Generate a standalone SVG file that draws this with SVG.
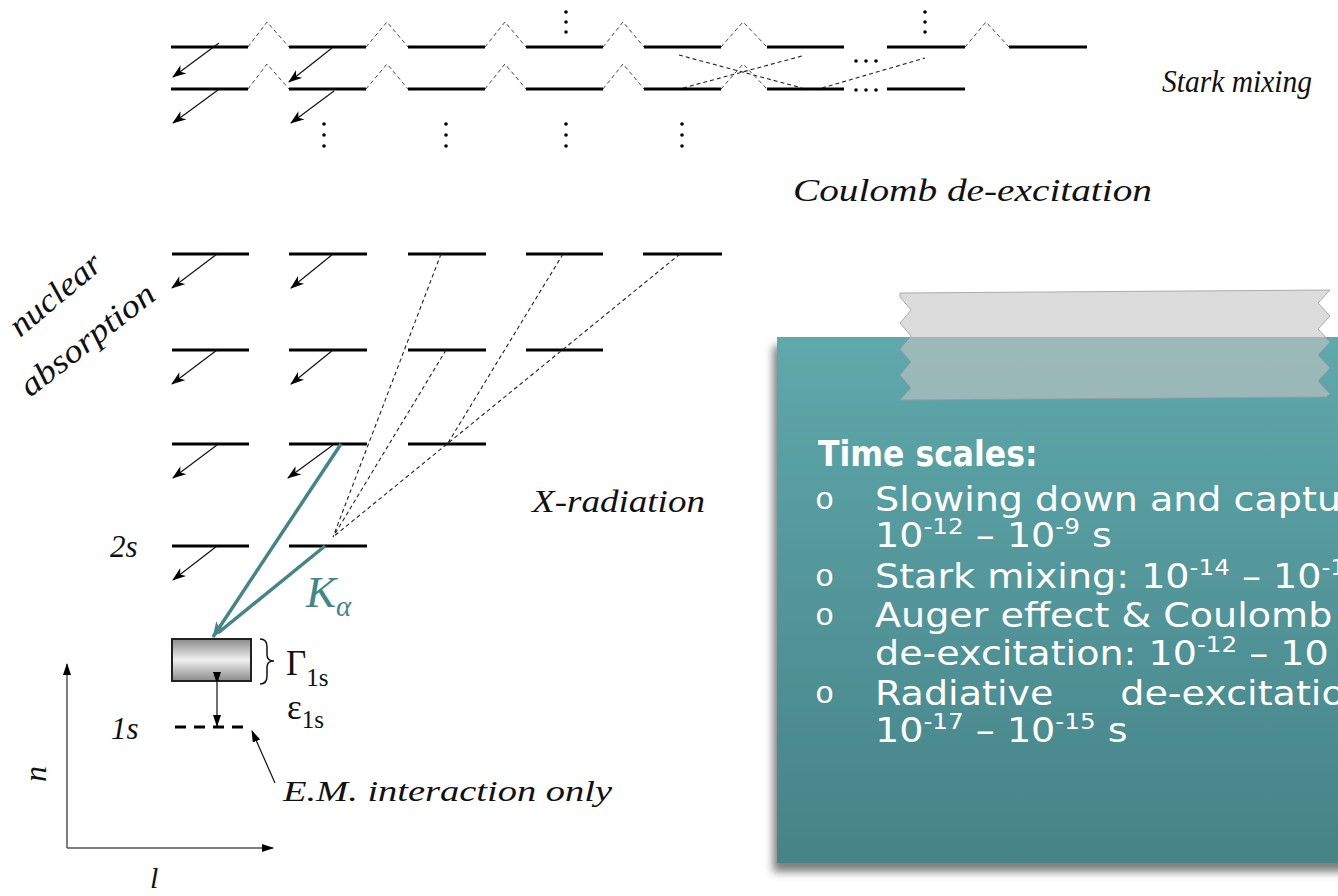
<svg xmlns="http://www.w3.org/2000/svg" width="1338" height="896" viewBox="0 0 1338 896">
<style>
.lvl{stroke:#000;stroke-width:3;fill:none}
.peak{stroke:#444;stroke-width:1;stroke-dasharray:4,3;fill:none}
.xr{stroke:#222;stroke-width:1.1;stroke-dasharray:4,3;fill:none}
.arr{stroke:#111;stroke-width:1.2;fill:none;marker-end:url(#ah)}
.teal{stroke:#448686;stroke-width:3.5;fill:none}
.dot{fill:#000}
.lbl{font-family:"Liberation Serif","Times New Roman",serif;font-style:italic;fill:#111}
.sym{font-family:"Liberation Serif","Times New Roman",serif;fill:#111}
.box{font-family:"DejaVu Sans",sans-serif;fill:#fff;font-size:34px}
.ttl{font-family:"DejaVu Sans Condensed","DejaVu Sans",sans-serif;font-stretch:condensed;font-weight:bold;fill:#fff;font-size:35px}
.bul{font-family:"Liberation Mono","Courier New",monospace;fill:#fff;font-size:32px}
.sup{font-size:22px}
</style>
<defs>
<marker id="ah" viewBox="0 0 14 10" refX="13" refY="5" markerWidth="14" markerHeight="10" markerUnits="userSpaceOnUse" orient="auto">
<path d="M0,0 L14,5 L0,10 L4,5 Z" fill="#000"/>
</marker>
<marker id="ahs" viewBox="0 0 12 8" refX="11" refY="4" markerWidth="12" markerHeight="8" markerUnits="userSpaceOnUse" orient="auto">
<path d="M0,0 L12,4 L0,8 Z" fill="#000"/>
</marker>
<marker id="aht" viewBox="0 0 16 12" refX="15" refY="6" markerWidth="16" markerHeight="12" markerUnits="userSpaceOnUse" orient="auto">
<path d="M0,0 L16,6 L0,12 L4,6 Z" fill="#448686"/>
</marker>
<linearGradient id="gbox" x1="0" y1="0" x2="0" y2="1">
<stop offset="0" stop-color="#8a8a8a"/>
<stop offset="0.5" stop-color="#f0f0f0"/>
<stop offset="1" stop-color="#8a8a8a"/>
</linearGradient>
<linearGradient id="gpanel" x1="0" y1="0" x2="0" y2="1">
<stop offset="0" stop-color="#5fa8ab"/>
<stop offset="1" stop-color="#468387"/>
</linearGradient>
<filter id="shadow" x="-10%" y="-10%" width="130%" height="130%">
<feDropShadow dx="-4" dy="9" stdDeviation="4" flood-color="#555" flood-opacity="0.75"/>
</filter>
</defs>
<rect width="1338" height="896" fill="#fff"/>

<g id="stark-levels">
<path class="lvl" d="M171,47H248M289,47H366M408,47H485M526,47H603M644,47H721M767,47H844M887,47H965M1009,47H1087"/>
<path class="lvl" d="M171,89H248M289,89H366M408,89H485M526,89H603M644,89H721M767,89H844M887,89H965"/>
<path class="peak" d="M248,47L267,22L289,47M366,47L387,22L408,47M485,47L505,22L526,47M603,47L623,22L644,47M721,47L743,22L767,47M965,47L986,22L1009,47"/>
<path class="peak" d="M248,89L267,64L289,89M366,89L387,64L408,89M485,89L505,64L526,89M603,89L623,64L644,89M721,89L743,64L767,89"/>
<g class="dot">
<circle cx="566" cy="12" r="1.8"/><circle cx="566" cy="22" r="1.8"/><circle cx="566" cy="32" r="1.8"/>
<circle cx="925" cy="12" r="1.8"/><circle cx="925" cy="22" r="1.8"/><circle cx="925" cy="32" r="1.8"/>
<circle cx="856" cy="61" r="1.8"/><circle cx="866" cy="61" r="1.8"/><circle cx="876" cy="61" r="1.8"/>
<circle cx="856" cy="90" r="1.8"/><circle cx="866" cy="90" r="1.8"/><circle cx="876" cy="90" r="1.8"/>
<circle cx="324" cy="124" r="1.8"/><circle cx="324" cy="135" r="1.8"/><circle cx="324" cy="146" r="1.8"/>
<circle cx="446" cy="124" r="1.8"/><circle cx="446" cy="135" r="1.8"/><circle cx="446" cy="146" r="1.8"/>
<circle cx="566" cy="124" r="1.8"/><circle cx="566" cy="135" r="1.8"/><circle cx="566" cy="146" r="1.8"/>
<circle cx="682" cy="124" r="1.8"/><circle cx="682" cy="135" r="1.8"/><circle cx="682" cy="146" r="1.8"/>
</g>
</g>

<g id="cascade-levels">
<path class="lvl" d="M172,254H249M289,254H367M408,254H486M526,254H603M643,254H722"/>
<path class="lvl" d="M172,350H249M289,350H367M408,350H486M526,350H603"/>
<path class="lvl" d="M172,444H249M289,444H367M408,444H486"/>
<path class="lvl" d="M172,546H249M289,546H367"/>
</g>

<g id="ground-state">
<rect x="172" y="639" width="79" height="42" fill="url(#gbox)" stroke="#222" stroke-width="2"/>
<path d="M260,639 Q267,639 267,647 L267,655 Q267,661 274,661 Q267,661 267,667 L267,676 Q267,684 260,684" fill="none" stroke="#111" stroke-width="1.5"/>
<path d="M175,727H251" stroke="#000" stroke-width="3" stroke-dasharray="11,8" fill="none"/>
</g>

<g id="axes">
<path d="M67,848V664" stroke="#555" stroke-width="1.5" fill="none" marker-end="url(#ahs)"/>
<path d="M67,848H273" stroke="#555" stroke-width="1.5" fill="none" marker-end="url(#ahs)"/>
</g>

<g id="connectors">
<path class="arr" d="M219,43L173,77"/>
<path class="arr" d="M332,48L289,82"/>
<path class="arr" d="M218,90L173,123"/>
<path class="arr" d="M334,91L291,123"/>
<path class="arr" d="M217,254L172,288"/>
<path class="arr" d="M333,254L291,288"/>
<path class="arr" d="M217,350L172,384"/>
<path class="arr" d="M333,350L291,384"/>
<path class="arr" d="M217,445L173,478"/>
<path class="arr" d="M333,445L288,478"/>
<path class="arr" d="M217,546L173,580"/>
<path class="xr" d="M679,55L802,88M683,88L802,56M822,88L925,58"/>
<path class="xr" d="M441,254L333,537M446,350L333,537M680,254L333,537M563,254L448,443"/>
<path class="teal" d="M325,546L218,633"/>
<path class="teal" d="M341,444L213,637" marker-end="url(#aht)"/>
<path d="M217,683V726" stroke="#111" stroke-width="1.2" fill="none" marker-start="url(#ahs)" marker-end="url(#ahs)"/>
<path d="M275,783L252,731" stroke="#111" stroke-width="1.2" fill="none" marker-end="url(#ahs)"/>
</g>

<g id="labels">
<text class="lbl" x="1162" y="92" font-size="31" textLength="150" lengthAdjust="spacingAndGlyphs">Stark mixing</text>
<text class="lbl" x="793" y="201" font-size="31" textLength="359" lengthAdjust="spacingAndGlyphs">Coulomb de-excitation</text>
<text class="lbl" x="532" y="512" font-size="31" textLength="173" lengthAdjust="spacingAndGlyphs">X-radiation</text>
<text class="lbl" x="110" y="557" font-size="31">2s</text>
<text class="lbl" x="111" y="739" font-size="31">1s</text>
<text class="lbl" x="283" y="801" font-size="30" textLength="329" lengthAdjust="spacingAndGlyphs">E.M. interaction only</text>
<text class="lbl" x="20" y="338" font-size="33" textLength="110" lengthAdjust="spacingAndGlyphs" transform="rotate(-40 20 338)">nuclear</text>
<text class="lbl" x="30" y="398" font-size="33" textLength="162" lengthAdjust="spacingAndGlyphs" transform="rotate(-38 30 398)">absorption</text>
<text class="lbl" x="46" y="782" font-size="32" transform="rotate(-90 46 782)">n</text>
<text class="lbl" x="150" y="888" font-size="30">l</text>
<text class="lbl" x="306" y="607" font-size="45" style="fill:#448686">K<tspan font-size="29" dy="9">α</tspan></text>
<text class="sym" x="286" y="675" font-size="35">Γ<tspan font-size="25" dy="11">1s</tspan></text>
<text class="sym" x="287" y="719" font-size="35">ε<tspan font-size="25" dy="9">1s</tspan></text>
</g>

<g id="timescale-panel">
<rect x="777" y="337" width="600" height="526" fill="url(#gpanel)" filter="url(#shadow)"/>
<polygon points="900,293 1330,290 1318,303 1330,316 1318,329 1330,342 1318,355 1330,368 1318,381 1330,394 1326,397 900,400 911,388 900,375 911,362 900,349 911,336 900,323 911,310 900,297" fill="#c4c4c4" fill-opacity="0.6" stroke="#999" stroke-width="0.8"/>
<text class="ttl" x="818" y="466">Time scales:</text>
<text class="bul" x="815" y="509">o</text>
<text class="bul" x="815" y="586">o</text>
<text class="bul" x="815" y="625">o</text>
<text class="bul" x="815" y="703">o</text>
<g transform="matrix(1.12 0 0 1 -105 0)">
<text class="box" x="875" y="511">Slowing down and capture:</text>
<text class="box" x="875" y="547">10<tspan class="sup" dy="-13">-12</tspan><tspan dy="13"> – 10</tspan><tspan class="sup" dy="-13">-9</tspan><tspan dy="13"> s</tspan></text>
<text class="box" x="875" y="588">Stark mixing: 10<tspan class="sup" dy="-13">-14</tspan><tspan dy="13"> – 10</tspan><tspan class="sup" dy="-13">-1</tspan></text>
<text class="box" x="875" y="627">Auger effect &amp; Coulomb</text>
<text class="box" x="875" y="665">de-excitation: 10<tspan class="sup" dy="-13">-12</tspan><tspan dy="13"> – 10</tspan></text>
<text class="box" x="875" y="705">Radiative</text>
<text class="box" x="1094" y="705">de-excitation</text>
<text class="box" x="875" y="742">10<tspan class="sup" dy="-13">-17</tspan><tspan dy="13"> – 10</tspan><tspan class="sup" dy="-13">-15</tspan><tspan dy="13"> s</tspan></text>
</g>
</g>
</svg>
